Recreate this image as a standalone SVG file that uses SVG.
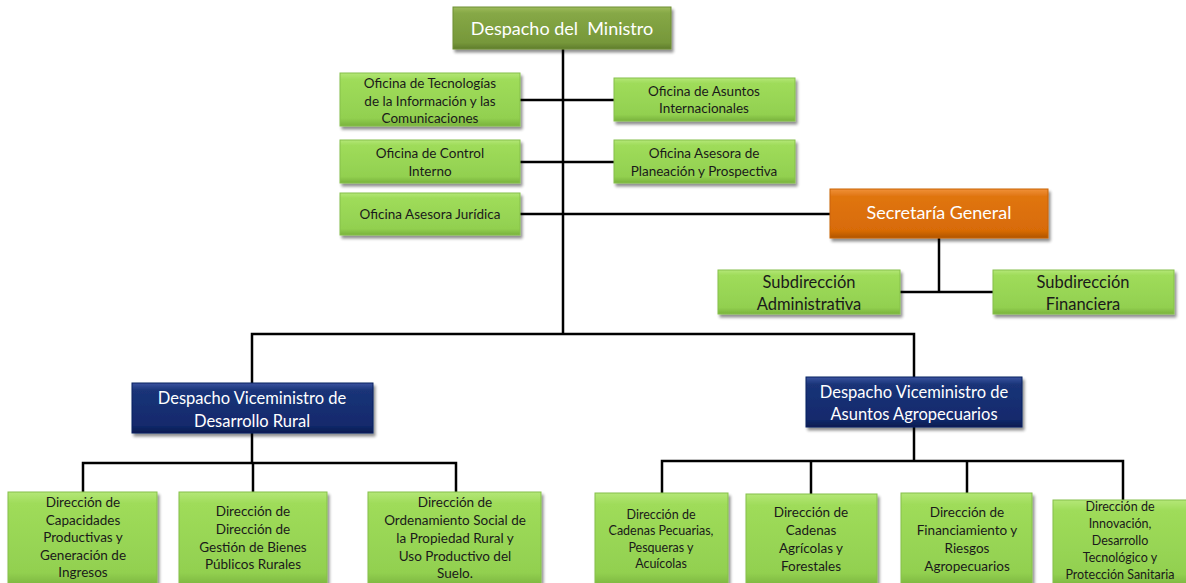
<svg xmlns="http://www.w3.org/2000/svg" width="1186" height="583" viewBox="0 0 1186 583">
<defs>
<linearGradient id="gGreen" x1="0" y1="0" x2="0" y2="1">
<stop offset="0" stop-color="#b4e777"/>
<stop offset="0.12" stop-color="#9fdc5a"/>
<stop offset="0.85" stop-color="#92d050"/>
<stop offset="1" stop-color="#79b23c"/>
</linearGradient>
<linearGradient id="gOlive" x1="0" y1="0" x2="0" y2="1">
<stop offset="0" stop-color="#9dbb5c"/>
<stop offset="0.15" stop-color="#86a846"/>
<stop offset="0.85" stop-color="#76973a"/>
<stop offset="1" stop-color="#5f7d2c"/>
</linearGradient>
<linearGradient id="gOrange" x1="0" y1="0" x2="0" y2="1">
<stop offset="0" stop-color="#f0913a"/>
<stop offset="0.15" stop-color="#e07510"/>
<stop offset="0.85" stop-color="#d86b06"/>
<stop offset="1" stop-color="#b05504"/>
</linearGradient>
<linearGradient id="gNavy" x1="0" y1="0" x2="0" y2="1">
<stop offset="0" stop-color="#3a54a0"/>
<stop offset="0.15" stop-color="#1a3478"/>
<stop offset="0.85" stop-color="#12296c"/>
<stop offset="1" stop-color="#0a1c50"/>
</linearGradient>
<filter id="shadow" x="-10%" y="-10%" width="125%" height="135%">
<feGaussianBlur in="SourceAlpha" stdDeviation="1.6"/>
<feOffset dx="2" dy="2.5" result="b"/>
<feComponentTransfer><feFuncA type="linear" slope="0.45"/></feComponentTransfer>
<feMerge><feMergeNode/><feMergeNode in="SourceGraphic"/></feMerge>
</filter>
</defs>
<style>
.box{filter:url(#shadow);stroke-width:1}
.green{fill:url(#gGreen);stroke:#86c04a}
.olive{fill:url(#gOlive);stroke:#6f8f35}
.orange{fill:url(#gOrange);stroke:#c96206}
.navy{fill:url(#gNavy);stroke:#0d2160}
text{font-family:Lato,"Open Sans","Liberation Sans",sans-serif;text-anchor:middle}
.t13{font-size:13.5px;fill:#1a1a1a}
.t12{font-size:12.5px;fill:#1a1a1a}
.t16{font-size:16.5px;fill:#1a1a1a}
.w16{font-size:16.5px;fill:#ffffff}
.w18{font-size:18px;fill:#ffffff}
.conn{stroke:#000;stroke-width:2.5;fill:none}
</style>
<g id="connectors" class="conn">
<path d="M563 49V334"/>
<path d="M520 100H614"/>
<path d="M520 162H614"/>
<path d="M520 214H830"/>
<path d="M939 238V292"/>
<path d="M900 292H993"/>
<path d="M252 383V334H914V377"/>
<path d="M252 433V463"/>
<path d="M83 492V463H456V492"/>
<path d="M253 463V492"/>
<path d="M914 427V461"/>
<path d="M662 493V461H1123V500"/>
<path d="M811 461V494"/>
<path d="M967 461V493"/>
</g>
<g id="ministro"><rect class="box olive" x="453" y="7" width="218" height="42"/><text class="w18" x="562" y="35">Despacho del&#160; Ministro</text></g>
<g id="of-tic"><rect class="box green" x="340" y="73" width="180" height="53"/><text class="t13"><tspan x="430" y="88">Oficina de Tecnologías</tspan><tspan x="430" y="106">de la Información y las</tspan><tspan x="430" y="123">Comunicaciones</tspan></text></g>
<g id="of-asuntos"><rect class="box green" x="614" y="78" width="181" height="43"/><text class="t13"><tspan x="704" y="96">Oficina de Asuntos</tspan><tspan x="704" y="113">Internacionales</tspan></text></g>
<g id="of-control"><rect class="box green" x="340" y="140" width="180" height="43"/><text class="t13"><tspan x="430" y="158">Oficina de Control</tspan><tspan x="430" y="176">Interno</tspan></text></g>
<g id="of-planeacion"><rect class="box green" x="614" y="140" width="181" height="43"/><text class="t13"><tspan x="704" y="158">Oficina Asesora de</tspan><tspan x="704" y="176">Planeación y Prospectiva</tspan></text></g>
<g id="of-juridica"><rect class="box green" x="340" y="193" width="180" height="42"/><text class="t13" x="430" y="219">Oficina Asesora Jurídica</text></g>
<g id="secretaria"><rect class="box orange" x="830" y="189" width="218" height="49"/><text class="w18" x="939" y="219">Secretaría General</text></g>
<g id="sub-adm"><rect class="box green" x="718" y="270" width="182" height="44"/><text class="t16"><tspan x="809" y="288">Subdirección</tspan><tspan x="809" y="310">Administrativa</tspan></text></g>
<g id="sub-fin"><rect class="box green" x="993" y="270" width="181" height="44"/><text class="t16"><tspan x="1083" y="288">Subdirección</tspan><tspan x="1083" y="310">Financiera</tspan></text></g>
<g id="vice-rural"><rect class="box navy" x="132" y="383" width="241" height="50"/><text class="w16"><tspan x="252" y="404">Despacho Viceministro de</tspan><tspan x="252" y="427">Desarrollo Rural</tspan></text></g>
<g id="vice-agro"><rect class="box navy" x="806" y="377" width="216" height="50"/><text class="w16"><tspan x="914" y="398">Despacho Viceministro de</tspan><tspan x="914" y="420">Asuntos Agropecuarios</tspan></text></g>
<g id="dir-capacidades"><rect class="box green" x="8" y="492" width="149" height="95"/><text class="t13"><tspan x="83" y="507">Dirección de</tspan><tspan x="83" y="525">Capacidades</tspan><tspan x="83" y="542">Productivas y</tspan><tspan x="83" y="560">Generación de</tspan><tspan x="83" y="577">Ingresos</tspan></text></g>
<g id="dir-bienes"><rect class="box green" x="179" y="492" width="148" height="95"/><text class="t13"><tspan x="253" y="516">Dirección de</tspan><tspan x="253" y="534">Dirección de</tspan><tspan x="253" y="552">Gestión de Bienes</tspan><tspan x="253" y="569">Públicos Rurales</tspan></text></g>
<g id="dir-ordenamiento"><rect class="box green" x="368" y="492" width="173" height="95"/><text class="t13"><tspan x="455" y="507">Dirección de</tspan><tspan x="455" y="525">Ordenamiento Social de</tspan><tspan x="455" y="543">la Propiedad Rural y</tspan><tspan x="455" y="561">Uso Productivo del</tspan><tspan x="455" y="578">Suelo.</tspan></text></g>
<g id="dir-pecuarias"><rect class="box green" x="595" y="493" width="133" height="94"/><text class="t12"><tspan x="661" y="519">Dirección de</tspan><tspan x="661" y="535">Cadenas Pecuarias,</tspan><tspan x="661" y="552">Pesqueras y</tspan><tspan x="661" y="568">Acuícolas</tspan></text></g>
<g id="dir-agricolas"><rect class="box green" x="746" y="494" width="131" height="93"/><text class="t13"><tspan x="811" y="517">Dirección de</tspan><tspan x="811" y="535">Cadenas</tspan><tspan x="811" y="553">Agrícolas y</tspan><tspan x="811" y="571">Forestales</tspan></text></g>
<g id="dir-financiamiento"><rect class="box green" x="901" y="493" width="131" height="94"/><text class="t13"><tspan x="967" y="517">Dirección de</tspan><tspan x="967" y="535">Financiamiento y</tspan><tspan x="967" y="553">Riesgos</tspan><tspan x="967" y="571">Agropecuarios</tspan></text></g>
<g id="dir-innovacion"><rect class="box green" x="1053" y="500" width="136" height="87"/><text class="t12"><tspan x="1120" y="511">Dirección de</tspan><tspan x="1120" y="528">Innovación,</tspan><tspan x="1120" y="545">Desarrollo</tspan><tspan x="1120" y="562">Tecnológico y</tspan><tspan x="1120" y="579">Protección Sanitaria</tspan></text></g>
</svg>
